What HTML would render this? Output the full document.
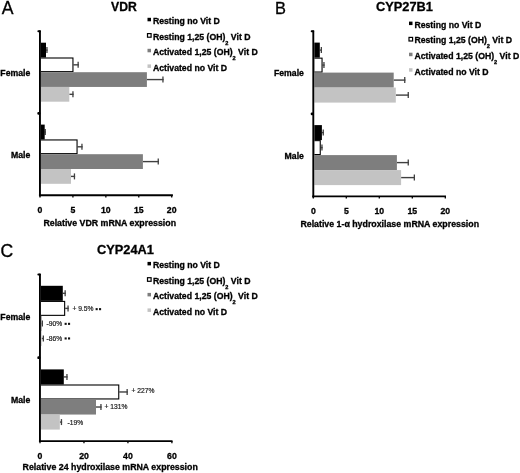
<!DOCTYPE html>
<html><head><meta charset="utf-8"><style>
html,body{margin:0;padding:0;background:#fff;width:520px;height:473px;overflow:hidden}
svg{display:block;will-change:transform;filter:blur(0.35px)}
text{font-family:"Liberation Sans",sans-serif}
text[font-weight="bold"]{stroke:#000;stroke-width:0.3px}
</style></head><body>
<svg width="520" height="473" viewBox="0 0 520 473">
<rect width="520" height="473" fill="#fff"/>
<text x="1.80" y="13.60" font-size="17.6" font-weight="normal" text-anchor="start" fill="#000" stroke="#000" stroke-width="0.3">A</text>
<text x="111.00" y="10.50" font-size="12.2" font-weight="bold" text-anchor="start" fill="#000" >VDR</text>
<rect x="147.50" y="17.80" width="3.50" height="3.50" fill="#000" />
<text x="152.90" y="24.10" font-size="8.7" font-weight="bold" text-anchor="start" fill="#000" >Resting no Vit D</text>
<rect x="146.90" y="33.00" width="4.80" height="4.80" fill="#000" />
<rect x="148.10" y="34.20" width="2.40" height="2.40" fill="#fff" />
<text x="152.90" y="39.60" font-size="8.7" font-weight="bold">Resting 1,25 (OH)<tspan font-size="5.6" dy="4.9">2</tspan><tspan dy="-4.9"> Vit D</tspan></text>
<rect x="147.50" y="48.80" width="3.50" height="3.50" fill="#7e7e7e" />
<text x="152.90" y="55.10" font-size="8.7" font-weight="bold">Activated 1,25 (OH)<tspan font-size="5.6" dy="4.9">2</tspan><tspan dy="-4.9"> Vit D</tspan></text>
<rect x="147.50" y="64.40" width="3.50" height="3.50" fill="#c3c3c3" />
<text x="152.90" y="70.70" font-size="8.7" font-weight="bold" text-anchor="start" fill="#000" >Activated no Vit D</text>
<line x1="46.00" y1="50.08" x2="47.60" y2="50.08" stroke="#404040" stroke-width="1.4"/>
<line x1="46.95" y1="47.08" x2="46.95" y2="53.08" stroke="#404040" stroke-width="1.3"/>
<rect x="41.00" y="42.70" width="5.00" height="14.75" fill="#000" />
<line x1="73.50" y1="64.83" x2="78.80" y2="64.83" stroke="#404040" stroke-width="1.4"/>
<line x1="78.15" y1="61.83" x2="78.15" y2="67.83" stroke="#404040" stroke-width="1.3"/>
<rect x="41.00" y="57.45" width="32.50" height="14.75" fill="#000" />
<rect x="41.00" y="58.55" width="31.40" height="12.55" fill="#fff" />
<line x1="146.90" y1="79.58" x2="163.60" y2="79.58" stroke="#404040" stroke-width="1.4"/>
<line x1="162.95" y1="76.58" x2="162.95" y2="82.58" stroke="#404040" stroke-width="1.3"/>
<rect x="41.00" y="72.20" width="105.90" height="14.75" fill="#7e7e7e" />
<line x1="69.30" y1="94.33" x2="73.60" y2="94.33" stroke="#404040" stroke-width="1.4"/>
<line x1="72.95" y1="91.33" x2="72.95" y2="97.33" stroke="#404040" stroke-width="1.3"/>
<rect x="41.00" y="86.95" width="28.30" height="14.75" fill="#c3c3c3" />
<line x1="44.70" y1="132.00" x2="45.90" y2="132.00" stroke="#404040" stroke-width="1.4"/>
<line x1="45.25" y1="129.00" x2="45.25" y2="135.00" stroke="#404040" stroke-width="1.3"/>
<rect x="41.00" y="124.60" width="3.70" height="14.80" fill="#000" />
<line x1="77.60" y1="146.80" x2="82.60" y2="146.80" stroke="#404040" stroke-width="1.4"/>
<line x1="81.95" y1="143.80" x2="81.95" y2="149.80" stroke="#404040" stroke-width="1.3"/>
<rect x="41.00" y="139.40" width="36.60" height="14.80" fill="#000" />
<rect x="41.00" y="140.50" width="35.50" height="12.60" fill="#fff" />
<line x1="142.90" y1="161.60" x2="158.90" y2="161.60" stroke="#404040" stroke-width="1.4"/>
<line x1="158.25" y1="158.60" x2="158.25" y2="164.60" stroke="#404040" stroke-width="1.3"/>
<rect x="41.00" y="154.20" width="101.90" height="14.80" fill="#7e7e7e" />
<line x1="71.00" y1="176.40" x2="75.10" y2="176.40" stroke="#404040" stroke-width="1.4"/>
<line x1="74.45" y1="173.40" x2="74.45" y2="179.40" stroke="#404040" stroke-width="1.3"/>
<rect x="41.00" y="169.00" width="30.00" height="14.80" fill="#c3c3c3" />
<line x1="39.95" y1="30.50" x2="39.95" y2="196.30" stroke="#000" stroke-width="1.9"/>
<rect x="37.35" y="30.20" width="3.5" height="2.0" rx="1" fill="#000"/>
<rect x="37.35" y="111.90" width="3.0" height="2.8" rx="1.2" fill="#000"/>
<line x1="38.95" y1="195.30" x2="172.90" y2="195.30" stroke="#000" stroke-width="1.9"/>
<line x1="40.00" y1="195.30" x2="40.00" y2="197.50" stroke="#000" stroke-width="1.3"/>
<line x1="72.92" y1="195.30" x2="72.92" y2="197.50" stroke="#000" stroke-width="1.3"/>
<line x1="105.85" y1="195.30" x2="105.85" y2="197.50" stroke="#000" stroke-width="1.3"/>
<line x1="138.77" y1="195.30" x2="138.77" y2="197.50" stroke="#000" stroke-width="1.3"/>
<line x1="171.70" y1="195.30" x2="171.70" y2="197.50" stroke="#000" stroke-width="1.3"/>
<text x="40.00" y="212.80" font-size="8.7" font-weight="bold" text-anchor="middle" fill="#000" >0</text>
<text x="72.92" y="212.80" font-size="8.7" font-weight="bold" text-anchor="middle" fill="#000" >5</text>
<text x="105.85" y="212.80" font-size="8.7" font-weight="bold" text-anchor="middle" fill="#000" >10</text>
<text x="138.77" y="212.80" font-size="8.7" font-weight="bold" text-anchor="middle" fill="#000" >15</text>
<text x="171.70" y="212.80" font-size="8.7" font-weight="bold" text-anchor="middle" fill="#000" >20</text>
<text x="30.30" y="75.80" font-size="8.7" font-weight="bold" text-anchor="end" fill="#000" >Female</text>
<text x="30.30" y="157.80" font-size="8.7" font-weight="bold" text-anchor="end" fill="#000" >Male</text>
<text x="43.40" y="226.30" font-size="8.8" font-weight="bold" text-anchor="start" fill="#000" >Relative VDR mRNA expression</text>
<text x="274.90" y="13.80" font-size="16.4" font-weight="normal" text-anchor="start" fill="#000" stroke="#000" stroke-width="0.3">B</text>
<text x="376.00" y="10.50" font-size="12.8" font-weight="bold" text-anchor="start" fill="#000" >CYP27B1</text>
<rect x="409.00" y="21.60" width="3.50" height="3.50" fill="#000" />
<text x="414.40" y="27.90" font-size="8.7" font-weight="bold" text-anchor="start" fill="#000" >Resting no Vit D</text>
<rect x="408.40" y="36.80" width="4.80" height="4.80" fill="#000" />
<rect x="409.60" y="38.00" width="2.40" height="2.40" fill="#fff" />
<text x="414.40" y="43.40" font-size="8.7" font-weight="bold">Resting 1,25 (OH)<tspan font-size="5.6" dy="4.9">2</tspan><tspan dy="-4.9"> Vit D</tspan></text>
<rect x="409.00" y="52.70" width="3.50" height="3.50" fill="#7e7e7e" />
<text x="414.40" y="59.00" font-size="8.7" font-weight="bold">Activated 1,25 (OH)<tspan font-size="5.6" dy="4.9">2</tspan><tspan dy="-4.9"> Vit D</tspan></text>
<rect x="409.00" y="68.20" width="3.50" height="3.50" fill="#c3c3c3" />
<text x="414.40" y="74.50" font-size="8.7" font-weight="bold" text-anchor="start" fill="#000" >Activated no Vit D</text>
<line x1="319.80" y1="50.10" x2="322.00" y2="50.10" stroke="#404040" stroke-width="1.4"/>
<line x1="321.35" y1="47.10" x2="321.35" y2="53.10" stroke="#404040" stroke-width="1.3"/>
<rect x="314.30" y="42.60" width="5.50" height="15.00" fill="#000" />
<line x1="322.60" y1="65.10" x2="324.60" y2="65.10" stroke="#404040" stroke-width="1.4"/>
<line x1="323.95" y1="62.10" x2="323.95" y2="68.10" stroke="#404040" stroke-width="1.3"/>
<rect x="314.30" y="57.60" width="8.30" height="15.00" fill="#000" />
<rect x="314.30" y="58.70" width="7.20" height="12.80" fill="#fff" />
<line x1="393.70" y1="80.10" x2="405.40" y2="80.10" stroke="#404040" stroke-width="1.4"/>
<line x1="404.75" y1="77.10" x2="404.75" y2="83.10" stroke="#404040" stroke-width="1.3"/>
<rect x="314.30" y="72.60" width="79.40" height="15.00" fill="#7e7e7e" />
<line x1="395.80" y1="95.10" x2="408.90" y2="95.10" stroke="#404040" stroke-width="1.4"/>
<line x1="408.25" y1="92.10" x2="408.25" y2="98.10" stroke="#404040" stroke-width="1.3"/>
<rect x="314.30" y="87.60" width="81.50" height="15.00" fill="#c3c3c3" />
<line x1="321.90" y1="132.60" x2="323.90" y2="132.60" stroke="#404040" stroke-width="1.4"/>
<line x1="323.25" y1="129.60" x2="323.25" y2="135.60" stroke="#404040" stroke-width="1.3"/>
<rect x="314.30" y="125.10" width="7.60" height="15.00" fill="#000" />
<line x1="320.80" y1="147.60" x2="322.60" y2="147.60" stroke="#404040" stroke-width="1.4"/>
<line x1="321.95" y1="144.60" x2="321.95" y2="150.60" stroke="#404040" stroke-width="1.3"/>
<rect x="314.30" y="140.10" width="6.50" height="15.00" fill="#000" />
<rect x="314.30" y="141.20" width="5.40" height="12.80" fill="#fff" />
<line x1="396.90" y1="162.60" x2="408.90" y2="162.60" stroke="#404040" stroke-width="1.4"/>
<line x1="408.25" y1="159.60" x2="408.25" y2="165.60" stroke="#404040" stroke-width="1.3"/>
<rect x="314.30" y="155.10" width="82.60" height="15.00" fill="#7e7e7e" />
<line x1="401.10" y1="177.60" x2="415.00" y2="177.60" stroke="#404040" stroke-width="1.4"/>
<line x1="414.35" y1="174.60" x2="414.35" y2="180.60" stroke="#404040" stroke-width="1.3"/>
<rect x="314.30" y="170.10" width="86.80" height="15.00" fill="#c3c3c3" />
<line x1="313.30" y1="30.50" x2="313.30" y2="197.40" stroke="#000" stroke-width="1.9"/>
<rect x="310.70" y="30.20" width="3.5" height="2.0" rx="1" fill="#000"/>
<rect x="310.70" y="112.40" width="3.0" height="2.8" rx="1.2" fill="#000"/>
<line x1="312.30" y1="196.40" x2="446.00" y2="196.40" stroke="#000" stroke-width="1.9"/>
<line x1="313.30" y1="196.40" x2="313.30" y2="198.60" stroke="#000" stroke-width="1.3"/>
<line x1="346.30" y1="196.40" x2="346.30" y2="198.60" stroke="#000" stroke-width="1.3"/>
<line x1="379.30" y1="196.40" x2="379.30" y2="198.60" stroke="#000" stroke-width="1.3"/>
<line x1="412.30" y1="196.40" x2="412.30" y2="198.60" stroke="#000" stroke-width="1.3"/>
<line x1="445.30" y1="196.40" x2="445.30" y2="198.60" stroke="#000" stroke-width="1.3"/>
<text x="313.30" y="213.60" font-size="8.7" font-weight="bold" text-anchor="middle" fill="#000" >0</text>
<text x="346.30" y="213.60" font-size="8.7" font-weight="bold" text-anchor="middle" fill="#000" >5</text>
<text x="379.30" y="213.60" font-size="8.7" font-weight="bold" text-anchor="middle" fill="#000" >10</text>
<text x="412.30" y="213.60" font-size="8.7" font-weight="bold" text-anchor="middle" fill="#000" >15</text>
<text x="445.30" y="213.60" font-size="8.7" font-weight="bold" text-anchor="middle" fill="#000" >20</text>
<text x="303.90" y="76.30" font-size="8.7" font-weight="bold" text-anchor="end" fill="#000" >Female</text>
<text x="303.90" y="158.90" font-size="8.7" font-weight="bold" text-anchor="end" fill="#000" >Male</text>
<text x="300.40" y="226.50" font-size="8.8" font-weight="bold" text-anchor="start" fill="#000" >Relative 1-α hydroxilase mRNA expression</text>
<text x="0.60" y="257.40" font-size="17.6" font-weight="normal" text-anchor="start" fill="#000" stroke="#000" stroke-width="0.3">C</text>
<text x="97.00" y="253.90" font-size="12.8" font-weight="bold" text-anchor="start" fill="#000" >CYP24A1</text>
<rect x="147.50" y="261.90" width="3.50" height="3.50" fill="#000" />
<text x="152.90" y="268.20" font-size="8.7" font-weight="bold" text-anchor="start" fill="#000" >Resting no Vit D</text>
<rect x="146.90" y="277.10" width="4.80" height="4.80" fill="#000" />
<rect x="148.10" y="278.30" width="2.40" height="2.40" fill="#fff" />
<text x="152.90" y="283.70" font-size="8.7" font-weight="bold">Resting 1,25 (OH)<tspan font-size="5.6" dy="4.9">2</tspan><tspan dy="-4.9"> Vit D</tspan></text>
<rect x="147.50" y="292.90" width="3.50" height="3.50" fill="#7e7e7e" />
<text x="152.90" y="299.20" font-size="8.7" font-weight="bold">Activated 1,25 (OH)<tspan font-size="5.6" dy="4.9">2</tspan><tspan dy="-4.9"> Vit D</tspan></text>
<rect x="147.50" y="308.40" width="3.50" height="3.50" fill="#c3c3c3" />
<text x="152.90" y="314.70" font-size="8.7" font-weight="bold" text-anchor="start" fill="#000" >Activated no Vit D</text>
<line x1="62.80" y1="293.32" x2="65.80" y2="293.32" stroke="#404040" stroke-width="1.4"/>
<line x1="65.15" y1="290.32" x2="65.15" y2="296.32" stroke="#404040" stroke-width="1.3"/>
<rect x="41.00" y="285.80" width="21.80" height="15.05" fill="#000" />
<line x1="65.20" y1="308.38" x2="68.70" y2="308.38" stroke="#404040" stroke-width="1.4"/>
<line x1="68.05" y1="305.38" x2="68.05" y2="311.38" stroke="#404040" stroke-width="1.3"/>
<rect x="41.00" y="300.85" width="24.20" height="15.05" fill="#000" />
<rect x="41.00" y="301.95" width="23.10" height="12.85" fill="#fff" />
<line x1="41.60" y1="323.43" x2="43.00" y2="323.43" stroke="#404040" stroke-width="1.4"/>
<line x1="42.35" y1="320.43" x2="42.35" y2="326.43" stroke="#404040" stroke-width="1.3"/>
<rect x="41.00" y="315.90" width="0.60" height="15.05" fill="#7e7e7e" />
<line x1="41.60" y1="338.48" x2="44.00" y2="338.48" stroke="#404040" stroke-width="1.4"/>
<line x1="43.35" y1="335.48" x2="43.35" y2="341.48" stroke="#404040" stroke-width="1.3"/>
<rect x="41.00" y="330.95" width="0.60" height="15.05" fill="#c3c3c3" />
<line x1="63.80" y1="376.92" x2="67.60" y2="376.92" stroke="#404040" stroke-width="1.4"/>
<line x1="66.95" y1="373.92" x2="66.95" y2="379.92" stroke="#404040" stroke-width="1.3"/>
<rect x="41.00" y="369.40" width="22.80" height="15.05" fill="#000" />
<line x1="119.30" y1="391.97" x2="127.80" y2="391.97" stroke="#404040" stroke-width="1.4"/>
<line x1="127.15" y1="388.97" x2="127.15" y2="394.97" stroke="#404040" stroke-width="1.3"/>
<rect x="41.00" y="384.45" width="78.30" height="15.05" fill="#000" />
<rect x="41.00" y="385.55" width="77.20" height="12.85" fill="#fff" />
<line x1="96.00" y1="407.02" x2="101.60" y2="407.02" stroke="#404040" stroke-width="1.4"/>
<line x1="100.95" y1="404.02" x2="100.95" y2="410.02" stroke="#404040" stroke-width="1.3"/>
<rect x="41.00" y="399.50" width="55.00" height="15.05" fill="#7e7e7e" />
<line x1="59.80" y1="422.07" x2="62.10" y2="422.07" stroke="#404040" stroke-width="1.4"/>
<line x1="61.45" y1="419.07" x2="61.45" y2="425.07" stroke="#404040" stroke-width="1.3"/>
<rect x="41.00" y="414.55" width="18.80" height="15.05" fill="#c3c3c3" />
<line x1="39.95" y1="273.80" x2="39.95" y2="442.10" stroke="#000" stroke-width="1.9"/>
<rect x="37.35" y="273.50" width="3.5" height="2.0" rx="1" fill="#000"/>
<rect x="37.35" y="356.30" width="3.0" height="2.8" rx="1.2" fill="#000"/>
<line x1="38.95" y1="441.10" x2="172.50" y2="441.10" stroke="#000" stroke-width="1.9"/>
<line x1="40.00" y1="441.10" x2="40.00" y2="443.30" stroke="#000" stroke-width="1.3"/>
<line x1="83.97" y1="441.10" x2="83.97" y2="443.30" stroke="#000" stroke-width="1.3"/>
<line x1="127.93" y1="441.10" x2="127.93" y2="443.30" stroke="#000" stroke-width="1.3"/>
<line x1="171.90" y1="441.10" x2="171.90" y2="443.30" stroke="#000" stroke-width="1.3"/>
<text x="40.00" y="458.50" font-size="8.7" font-weight="bold" text-anchor="middle" fill="#000" >0</text>
<text x="83.97" y="458.50" font-size="8.7" font-weight="bold" text-anchor="middle" fill="#000" >20</text>
<text x="127.93" y="458.50" font-size="8.7" font-weight="bold" text-anchor="middle" fill="#000" >40</text>
<text x="171.90" y="458.50" font-size="8.7" font-weight="bold" text-anchor="middle" fill="#000" >60</text>
<text x="30.30" y="319.60" font-size="8.7" font-weight="bold" text-anchor="end" fill="#000" >Female</text>
<text x="30.30" y="402.80" font-size="8.7" font-weight="bold" text-anchor="end" fill="#000" >Male</text>
<text x="22.60" y="469.90" font-size="8.8" font-weight="bold" text-anchor="start" fill="#000" >Relative 24 hydroxilase mRNA expression</text>
<text x="72.40" y="311.30" font-size="6.7" font-weight="normal" text-anchor="start" fill="#222" stroke="#222" stroke-width="0.2">+ 9.5%</text>
<rect x="95.60" y="308.10" width="2.10" height="2.10" fill="#111" />
<rect x="99.00" y="308.10" width="2.10" height="2.10" fill="#111" />
<text x="46.60" y="326.00" font-size="6.7" font-weight="normal" text-anchor="start" fill="#222" stroke="#222" stroke-width="0.2">-90%</text>
<rect x="64.60" y="322.80" width="2.10" height="2.10" fill="#111" />
<rect x="68.00" y="322.80" width="2.10" height="2.10" fill="#111" />
<text x="46.60" y="340.60" font-size="6.7" font-weight="normal" text-anchor="start" fill="#222" stroke="#222" stroke-width="0.2">-86%</text>
<rect x="64.60" y="337.40" width="2.10" height="2.10" fill="#111" />
<rect x="68.00" y="337.40" width="2.10" height="2.10" fill="#111" />
<text x="131.60" y="393.30" font-size="6.7" font-weight="normal" text-anchor="start" fill="#222" stroke="#222" stroke-width="0.2">+ 227%</text>
<text x="104.60" y="409.10" font-size="6.7" font-weight="normal" text-anchor="start" fill="#222" stroke="#222" stroke-width="0.2">+ 131%</text>
<text x="67.60" y="424.60" font-size="6.7" font-weight="normal" text-anchor="start" fill="#222" stroke="#222" stroke-width="0.2">-19%</text>
</svg>
</body></html>
